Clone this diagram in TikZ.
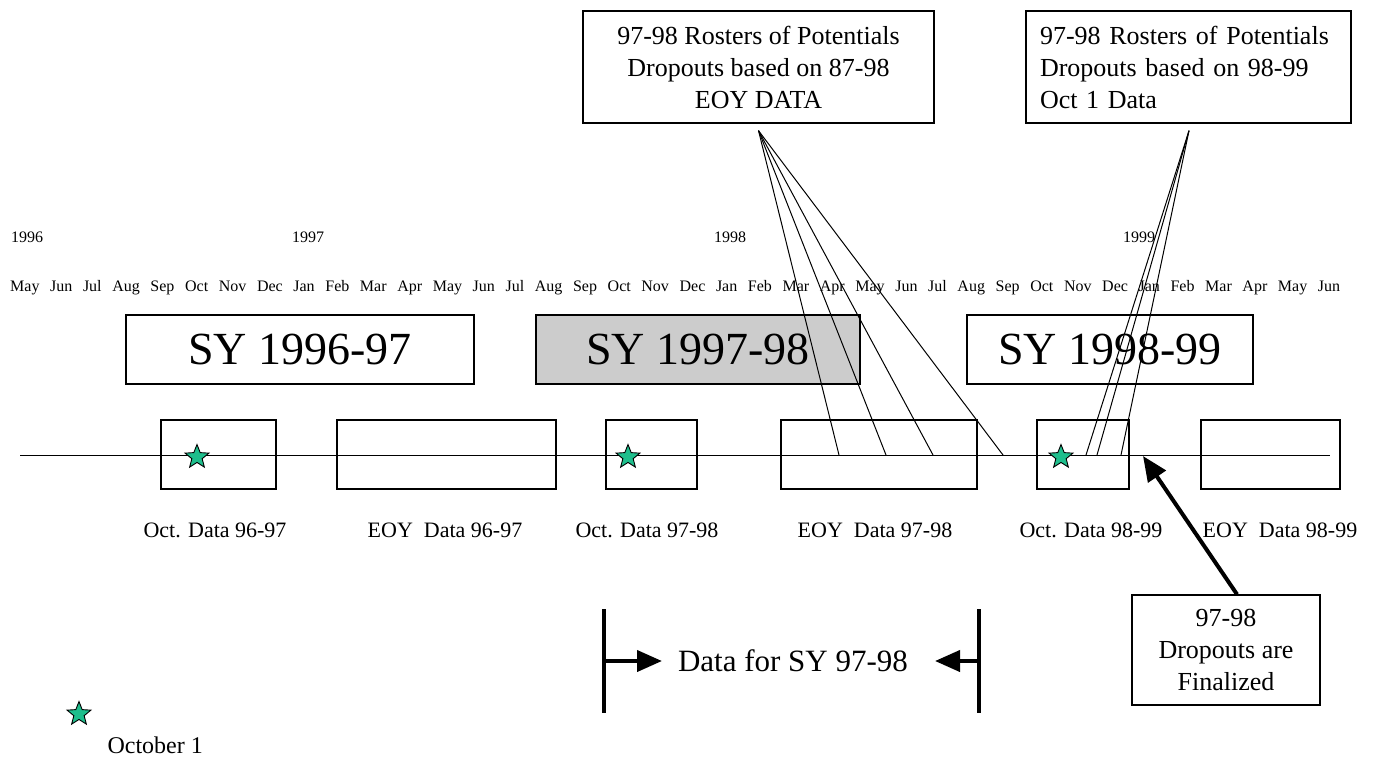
\documentclass[tikz,border=0pt]{standalone}
\usepackage{fontspec}
\setmainfont{Liberation Serif}
\usetikzlibrary{shapes.geometric,arrows.meta,calc}
\definecolor{starc}{RGB}{30,190,140}
\definecolor{shade}{RGB}{204,204,204}

\begin{document}
\begin{tikzpicture}[x=1pt,y=-1pt,
  box/.style={draw, line width=1.3pt, inner sep=0pt},
  thin/.style={line width=1pt},
  thick arrow/.style={line width=4pt, -{Triangle[length=25pt,width=21pt]}},
  bar/.style={line width=4pt},
  oct/.style={star, star points=5, star point ratio=2.3, minimum size=25pt,
              inner sep=0pt, draw, line width=0.9pt, fill=starc},
  yearlbl/.style={font=\fontsize{16}{18}\selectfont},
  sylbl/.style={box, font=\fontsize{46}{50}\selectfont, minimum height=69pt},
  datalbl/.style={font=\fontsize{22}{24}\selectfont},
  notebox/.style={box, font=\fontsize{26}{32}\selectfont, minimum height=112pt}]

\useasboundingbox (0,0) rectangle (1381,766);

% roster notes at the top
\node[notebox, minimum width=351pt, align=center] (rost1) at (758.5,67)
  {97-98 Rosters of Potentials\\Dropouts based on 87-98\\EOY DATA};
\node[notebox, minimum width=325pt, text width=297pt, align=left] (rost2) at (1188.5,67)
  {97-98 Rosters of Potentials\\Dropouts based on 98-99\\Oct 1 Data};

% calendar years and months
\node[yearlbl] (y96) at (27,237) {1996};
\node[yearlbl] (y97) at (308,237) {1997};
\node[yearlbl] (y98) at (730,237) {1998};
\node[yearlbl] (y99) at (1139,237) {1999};
\node[anchor=west, inner sep=0pt, font=\fontsize{16}{18}\selectfont] (months) at (10,288)
  {\makebox[1330pt][s]{May Jun Jul Aug Sep Oct Nov Dec Jan Feb Mar Apr May Jun Jul Aug Sep Oct Nov Dec Jan Feb Mar Apr May Jun Jul Aug Sep Oct Nov Dec Jan Feb Mar Apr May Jun}};

% school years
\node[sylbl, minimum width=348pt] (sy96) at (300,349.5) {SY 1996-97};
\node[sylbl, minimum width=324pt, fill=shade] (sy97) at (698,349.5) {SY 1997-98};
\node[sylbl, minimum width=286pt] (sy98) at (1110,349.5) {SY 1998-99};

% time line
\coordinate (t0) at (20,455);
\coordinate (t1) at (1330,455);
\draw[thin] (t0) -- (t1);

% data collection windows
\node[box, minimum width=115pt, minimum height=69pt] (oct96) at (218.5,454.5) {};
\node[box, minimum width=219pt, minimum height=69pt] (eoy96) at (446.5,454.5) {};
\node[box, minimum width=91pt,  minimum height=69pt] (oct97) at (651.5,454.5) {};
\node[box, minimum width=196pt, minimum height=69pt] (eoy97) at (879,454.5) {};
\node[box, minimum width=92pt,  minimum height=69pt] (oct98) at (1083,454.5) {};
\node[box, minimum width=139pt, minimum height=69pt] (eoy98) at (1270.5,454.5) {};

\node[datalbl] (loct96) at (215,530) {Oct. Data 96-97};
\node[datalbl] (leoy96) at (445,530) {EOY\ \ Data 96-97};
\node[datalbl] (loct97) at (647,530) {Oct. Data 97-98};
\node[datalbl] (leoy97) at (875,530) {EOY\ \ Data 97-98};
\node[datalbl] (loct98) at (1091,530) {Oct. Data 98-99};
\node[datalbl] (leoy98) at (1280,530) {EOY\ \ Data 98-99};

% October 1 markers
\node[oct] (s96) at (197,457) {};
\node[oct] (s97) at (628,457) {};
\node[oct] (s98) at (1061,457) {};

% fan of lines from the roster notes down to the time line
\coordinate (ap1) at ($(rost1.south)+(0,7)$);
\coordinate (e1) at (839,455);
\coordinate (e2) at (886,455);
\coordinate (e3) at (933,455);
\coordinate (e4) at (1003,455);
\foreach \p in {e1,e2,e3,e4} \draw[thin] (ap1) -- (\p);

\coordinate (ap2) at ($(rost2.south)+(0.5,7)$);
\coordinate (f1) at (1086,455);
\coordinate (f2) at (1097,455);
\coordinate (f3) at (1121,455);
\foreach \p in {f1,f2,f3} \draw[thin] (ap2) -- (\p);

% finalization note
\node[notebox, minimum width=188pt, minimum height=110pt, align=center] (fin) at (1226,650)
  {97-98\\Dropouts are\\Finalized};
\coordinate (fintip) at (1143,456);
\draw[thick arrow] ($(fin.north)+(11,0)$) -- (fintip);

% data range bracket for SY 97-98
\coordinate (lb1) at (604,609);
\coordinate (lb2) at (604,713);
\coordinate (rb1) at (979,609);
\coordinate (rb2) at (979,713);
\draw[bar] (lb1) -- (lb2);
\draw[bar] (rb1) -- (rb2);
\node[font=\fontsize{31}{34}\selectfont] (range) at (793,661) {Data for SY 97-98};
\coordinate (lm) at (604,661);
\coordinate (ltip) at (662,661);
\coordinate (rm) at (979,661);
\coordinate (rtip) at (935,661);
\draw[thick arrow] (lm) -- (ltip);
\draw[thick arrow] (rm) -- (rtip);

% legend
\node[oct] (legstar) at (79,714) {};
\node[anchor=west, font=\fontsize{24}{26}\selectfont] (legtxt) at (104,745) {October 1};
\end{tikzpicture}
\end{document}
